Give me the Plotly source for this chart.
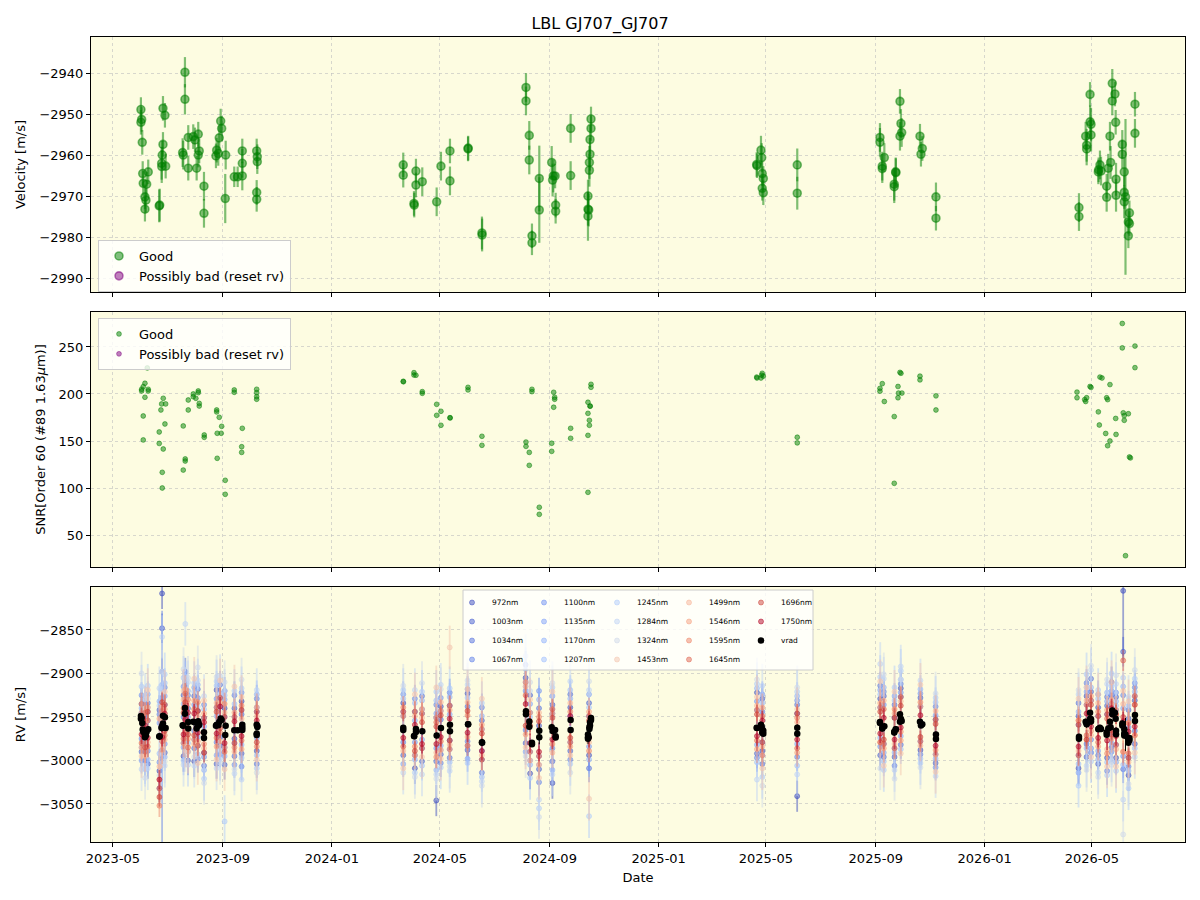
import numpy as np
import pandas as pd
import plotly.graph_objects as go

# ---------------- data ----------------
# Top panel: LBL velocities (MJD, m/s, m/s)
vel_mjd = [60096.3, 60097.1, 60096.3, 60097.8, 60098.3, 60098.9, 60104.5, 60102.7, 60100.8, 60101.9, 60100.8,
           60116.8, 60117.3, 60121.0, 60123.2, 60121.0, 60120.2, 60119.5, 60119.6, 60124.0,
           60143.0, 60143.7, 60145.6, 60145.6, 60149.3, 60149.3,
           60154.9, 60156.8, 60160.5, 60158.7, 60160.5, 60161.6, 60166.9, 60166.9,
           60180.3, 60181.1, 60182.9, 60184.0, 60185.6, 60186.7, 60190.7, 60191.2,
           60200.8, 60204.6, 60209.8, 60209.8, 60209.8,
           60225.9, 60226.6, 60226.6, 60225.9, 60225.9,
           60390.0, 60390.0, 60402.0, 60402.3, 60404.2, 60404.2, 60411.3, 60427.4, 60432.2, 60442.3, 60442.3,
           60462.5, 60462.7, 60478.1, 60478.3,
           60527.4, 60527.4, 60531.1, 60531.1, 60534.1, 60534.1, 60542.3, 60542.3,
           60556.2, 60558.0, 60560.0, 60557.2, 60560.6, 60560.6, 60577.4, 60577.4,
           60600.2, 60600.2, 60599.1, 60599.1, 60598.4, 60598.4, 60596.8, 60596.8, 60597.6, 60596.8,
           60785.7, 60786.0, 60790.5, 60791.3, 60791.9, 60793.1, 60791.9, 60793.1, 60831.1, 60831.1,
           60923.7, 60923.7, 60928.6, 60926.3, 60926.3, 60941.3, 60941.5, 60939.7, 60939.7,
           60946.1, 60947.2, 60948.0, 60946.1, 60968.5, 60971.1, 60969.6, 60986.4, 60986.4,
           61146.5, 61146.5, 61154.0, 61155.1, 61155.1, 61158.9, 61159.0, 61160.0, 61160.0,
           61168.2, 61168.5, 61170.0, 61171.2, 61177.5, 61177.5, 61179.3, 61181.9, 61181.2,
           61183.8, 61183.8, 61186.8, 61187.6, 61188.0, 61188.0,
           61195.0, 61195.0, 61197.2, 61197.2, 61197.2, 61198.6,
           61201.8, 61201.8, 61203.0, 61203.0, 61209.2, 61209.2]
vel = [-2948.9, -2951.3, -2952.0, -2956.9, -2964.5, -2966.9, -2964.1, -2967.1, -2970.2, -2971.0, -2973.2,
       -2972.4, -2972.2, -2948.6, -2950.3, -2957.4, -2960.0, -2962.0, -2962.8, -2962.7,
       -2959.4, -2960.0, -2939.8, -2946.4, -2955.7, -2963.2,
       -2955.5, -2956.3, -2954.9, -2963.2, -2960.0, -2959.0, -2967.6, -2974.2,
       -2960.2, -2958.8, -2959.6, -2955.8, -2951.7, -2953.5, -2970.6, -2960.0,
       -2965.3, -2965.3, -2959.0, -2962.0, -2965.1,
       -2959.0, -2960.4, -2961.6, -2969.1, -2970.8,
       -2962.4, -2964.9, -2971.8, -2972.2, -2963.9, -2967.3, -2966.5, -2971.4, -2962.7, -2959.0, -2966.3,
       -2958.5, -2958.3, -2979.0, -2979.5,
       -2943.5, -2946.8, -2955.2, -2961.2, -2979.7, -2981.4, -2965.7, -2973.4,
       -2961.8, -2965.1, -2965.1, -2966.1, -2972.2, -2973.7, -2953.5, -2965.0,
       -2951.2, -2953.5, -2956.2, -2959.8, -2961.8, -2963.7, -2970.0, -2973.2, -2973.4, -2974.9,
       -2962.3, -2962.6, -2958.8, -2960.6, -2964.5, -2965.7, -2968.1, -2969.2, -2962.4, -2969.3,
       -2955.7, -2956.9, -2960.6, -2962.7, -2963.3, -2964.1, -2964.3, -2967.1, -2967.7,
       -2946.9, -2952.3, -2954.5, -2955.4, -2955.4, -2958.4, -2959.8, -2970.2, -2975.4,
       -2972.8, -2975.0, -2955.4, -2957.6, -2958.5, -2945.2, -2951.9, -2952.5, -2955.1,
       -2964.1, -2963.6, -2962.4, -2963.9, -2967.6, -2970.3, -2963.2, -2961.8, -2955.4,
       -2942.5, -2946.8, -2945.1, -2952.0, -2965.9, -2969.8,
       -2957.4, -2959.8, -2964.1, -2969.1, -2971.4, -2970.2,
       -2976.3, -2979.7, -2974.1, -2976.7, -2947.6, -2954.7]
vel_err = [3, 3, 3, 3, 3, 3, 3, 3, 3, 3, 3,
           4, 4, 3, 3, 3, 3.5, 4, 4, 3,
           3.5, 3.5, 3.7, 3.7, 3, 3,
           3, 3, 3, 3, 3, 3, 3.5, 3.5,
           3, 3, 3, 3, 3, 3, 6, 3.5,
           2.5, 2.5, 3, 3.5, 3.5,
           3, 3, 3, 3, 3,
           3, 3, 3, 3, 3, 3, 3.5, 3.5, 3.5, 3, 3.5,
           3, 3, 4, 4,
           3.5, 3.5, 3.5, 3.5, 3, 3, 8, 8,
           4, 4, 3, 4, 3, 3, 3.5, 3.5,
           3, 3, 3.5, 4, 4, 4, 4, 4, 4, 6,
           3, 3, 3.5, 3.5, 3, 3, 3, 3, 4, 4,
           3.5, 3.5, 3.5, 3.5, 3.5, 3.5, 3.5, 4, 4,
           3, 3.5, 3.5, 3.5, 3, 3, 3, 3.5, 3,
           3.5, 3.5, 3.5, 4, 4, 3, 4, 4, 4,
           3, 3, 3.5, 3.5, 3, 3.5, 3.5, 4, 3.5,
           3.5, 3.5, 3, 3, 4, 4,
           3.5, 3.5, 3.5, 4, 4, 19,
           3, 3, 3, 3, 3, 3.5]

# Middle panel: SNR of order 60
snr_mjd = [60103.4, 60097.1, 60100.8, 60098.9, 60097.1, 60104.5, 60104.5, 60100.8, 60098.9, 60098.9,
           60121.3, 60119.5, 60124.0, 60118.7, 60123.2, 60116.8, 60116.8, 60121.3, 60120.2, 60120.2,
           60154.9, 60154.9, 60160.5, 60160.5, 60157.8, 60149.3, 60149.3, 60161.6, 60161.6,
           60143.7, 60145.9, 60145.9, 60143.7, 60167.2, 60167.2,
           60181.1, 60181.1, 60184.0, 60186.7, 60181.7, 60186.2, 60181.7, 60190.7, 60190.7,
           60200.8, 60200.8, 60209.8, 60209.1, 60209.1, 60225.9, 60225.9, 60225.9, 60225.9,
           60390.0, 60390.2, 60402.0, 60402.0, 60404.2, 60411.3, 60411.3, 60427.4, 60427.4, 60432.2, 60432.2,
           60442.3, 60442.5, 60462.5, 60462.5, 60478.1, 60478.1,
           60527.4, 60527.4, 60531.1, 60531.1, 60534.1, 60534.1, 60542.3, 60542.3,
           60556.2, 60556.2, 60558.4, 60558.4, 60559.5, 60559.5, 60577.4, 60577.4,
           60600.2, 60600.2, 60596.8, 60596.8, 60596.8, 60596.8, 60599.1, 60599.3, 60598.4, 60598.4,
           60785.7, 60786.0, 60790.5, 60791.3, 60791.9, 60793.1, 60831.1, 60831.1,
           60926.3, 60923.7, 60923.7, 60928.6, 60939.7, 60939.7, 60943.9, 60944.5, 60943.9,
           60946.1, 60947.2, 60948.3, 60968.5, 60968.5, 60986.4, 60986.4,
           61144.3, 61144.3, 61152.9, 61154.0, 61155.1, 61158.9, 61160.0, 61168.2, 61169.3, 61170.0, 61172.3,
           61177.5, 61178.6, 61176.4, 61181.2, 61178.6, 61181.2, 61187.6, 61188.0,
           61195.0, 61195.0, 61196.1, 61197.2, 61197.2, 61198.6, 61201.8, 61203.0, 61204.1,
           61209.2, 61209.2]
snr = [227.7, 203.2, 211.4, 207.8, 205.0, 205.0, 203.2, 196.5, 176.6, 151.1,
       195.4, 189.4, 189.4, 183.0, 168.1, 159.6, 147.4, 141.5, 116.7, 100.0,
       200.0, 197.1, 203.2, 201.4, 195.4, 193.6, 183.0, 190.0, 187.2,
       166.0, 130.9, 128.7, 119.1, 156.4, 153.9,
       183.0, 180.9, 175.2, 165.6, 158.2, 158.2, 131.6, 108.2, 93.3,
       204.3, 201.8, 163.5, 143.9, 137.9, 205.0, 201.4, 197.1, 194.4,
       213.5, 213.0, 222.7, 220.2, 219.9, 202.5, 200.7, 189.0, 177.3, 181.6, 166.7,
       174.8, 174.5, 207.1, 204.3, 155.0, 145.4,
       148.9, 144.3, 137.9, 124.1, 205.0, 202.5, 79.5, 72.0,
       147.6, 139.0, 201.8, 185.9, 196.5, 194.4, 163.5, 152.9,
       210.3, 207.1, 191.2, 179.4, 156.0, 95.4, 187.2, 187.0, 172.0, 166.7,
       218, 217, 217, 220, 222, 219, 154, 148,
       211, 206, 203, 192, 176, 105, 208, 201, 196,
       223, 222, 201, 219, 215, 198, 183,
       202, 196, 194, 192, 196, 208, 207, 181, 167, 218, 217,
       196, 194, 158, 210, 145, 150, 174, 157,
       275, 249, 180, 177, 172, 28, 179, 133, 132,
       251, 228]

# Bottom panel: per-band RVs on representative nights (MJD)
band_mjd = [60097, 60101, 60104, 60117, 60120, 60123, 60144, 60146, 60149, 60156, 60160, 60167,
            60181, 60185, 60190, 60201, 60209, 60226,
            60390, 60403, 60411, 60427, 60432, 60442, 60462, 60478, 60527, 60532, 60542, 60557, 60577, 60598,
            60786, 60792, 60831, 60924, 60928, 60940, 60947, 60969, 60986,
            61146, 61155, 61160, 61168, 61178, 61183, 61188, 61196, 61202, 61209]

rv_972 = [-2935, -3000, -2954, -3012, -2808, -2936, -2995, -2913, -2955, -3001, -2943, -2991, -2919, -2983, -2940, -2975, -2932, -2989,
          -2934, -3009, -2946, -3046, -2938, -2977, -2923, -2999, -2905, -3015, -2960, -3026, -2939, -2994,
          -2922, -2989, -3041, -2929, -2981, -2951, -2917, -2988, -2953,
          -3009, -2926, -2991, -2939, -2997, -2910, -2997, -2805, -3017, -2931]
rv_1003 = [-2990, -2950, -3004, -2942, -2848, -2991, -2925, -2963, -3000, -2926, -2983, -2951, -3004, -2928, -3005, -2940, -2992, -2944,
           -2994, -2944, -3001, -2951, -2993, -2937, -2988, -2954, -2980, -2925, -3010, -2936, -2989, -2934,
           -2992, -2929, -2946, -2994, -2926, -2996, -2927, -2928, -3003,
           -2949, -2996, -2921, -3004, -2937, -2985, -2927, -2875, -2952, -2981]
rv_1034 = [-2945, -2990, -2934, -3032, -2898, -2951, -2980, -2898, -2940, -2986, -2918, -3006, -2939, -2973, -2920, -2995, -2947, -3004,
           -2949, -2994, -2926, -3001, -2953, -2997, -2938, -3014, -2890, -2990, -2940, -3001, -2924, -3009,
           -2942, -3004, -2936, -2914, -2996, -2936, -2982, -2938, -2993,
           -2934, -2981, -2906, -2994, -2927, -2970, -2942, -3010, -2942, -2966]
rv_1067 = [-2975, -2935, -2989, -2947, -2998, -2916, -2950, -2973, -2925, -2966, -2998, -2936, -2979, -2913, -2985, -2925, -3007, -2929,
           -2979, -2929, -2986, -2936, -3003, -2922, -2978, -2939, -2965, -2945, -3025, -2946, -2999, -2949,
           -2997, -2944, -2996, -2939, -2921, -3006, -2912, -2993, -2938,
           -2994, -2911, -2976, -2924, -3012, -2925, -2982, -2925, -3007, -2916]
rv_1100 = [-2925, -2980, -2944, -3002, -2928, -2981, -2915, -2928, -2990, -2936, -2928, -2996, -2929, -2993, -2950, -3005, -2922, -2974,
           -2924, -2979, -2941, -2986, -2928, -2987, -2918, -2989, -2920, -3000, -2920, -2986, -2949, -2984,
           -2932, -2979, -2931, -2984, -2936, -2986, -2922, -2923, -3008,
           -2959, -2936, -2986, -2949, -2947, -2990, -2922, -2995, -2962, -2911]
rv_1135 = [-3000, -2955, -2924, -2957, -2988, -2926, -2985, -2908, -2950, -2916, -2973, -2961, -2994, -2938, -2930, -2980, -2942, -2939,
           -3004, -2954, -2976, -2946, -2983, -2947, -2998, -2964, -2990, -2935, -2995, -2926, -2979, -2924,
           -2982, -2924, -2981, -2919, -2991, -2926, -2972, -2978, -2948,
           -3014, -2921, -2931, -2989, -2932, -2920, -3002, -2940, -2997, -2926]
rv_1170 = [-2940, -2930, -2999, -2932, -2913, -2996, -2935, -2978, -2920, -2976, -2913, -3011, -2949, -2923, -2995, -2950, -2982, -2924,
           -2944, -2999, -2931, -3011, -2943, -2927, -2983, -2949, -2910, -3005, -2930, -3011, -2929, -2999,
           -2917, -2994, -2926, -2974, -2916, -2991, -2907, -2918, -2998,
           -2944, -2986, -2916, -2999, -2922, -2980, -2932, -2915, -3012, -2921]
rv_1207 = [-2985, -3010, -2939, -2992, -2918, -2911, -3000, -2903, -2980, -2921, -2993, -2941, -2914, -2988, -2925, -2935, -2997, -2994,
           -2929, -2934, -3006, -2931, -2988, -3002, -2928, -3019, -2915, -2950, -3005, -2941, -2919, -2939,
           -3002, -2934, -3006, -2924, -3001, -2931, -2987, -2998, -2933,
           -3004, -2916, -2991, -2929, -3002, -2915, -2937, -3005, -2937, -2986]
rv_1245 = [-2915, -3005, -2914, -2937, -3003, -2901, -2905, -2918, -3005, -2911, -2938, -3021, -2909, -2998, -3070, -2920, -2917, -3009,
           -2919, -3014, -2921, -2921, -3008, -2917, -3003, -2934, -2895, -3020, -3055, -2916, -3004, -3064,
           -2912, -3019, -2921, -2904, -3011, -2916, -2897, -3003, -2928,
           -3029, -2901, -3001, -2919, -3017, -2900, -3012, -2905, -3032, -2906]
rv_1284 = [-3010, -2925, -3009, -2917, -2858, -3006, -3005, -2843, -2910, -3006, -2908, -2926, -3009, -2903, -2920, -3015, -3022, -2919,
           -3014, -2919, -3016, -3016, -2913, -3012, -2913, -3024, -2880, -2920, -3045, -3016, -2909, -2919,
           -3022, -2914, -3016, -2889, -2906, -3011, -2892, -2908, -3018,
           -2924, -3006, -2896, -3014, -2912, -3000, -2912, -3045, -2927, -2996]
rv_1324 = [-2900, -3020, -2929, -3017, -2898, -3001, -2895, -2988, -2905, -2996, -2893, -3026, -2904, -3003, -2910, -3010, -2907, -3014,
           -2914, -3019, -2911, -3021, -2918, -3007, -2908, -3029, -2995, -2910, -3065, -2911, -3014, -2909,
           -2907, -3029, -2916, -3009, -2901, -3021, -2907, -3008, -2923,
           -2919, -3011, -2891, -3019, -2907, -3005, -2902, -3085, -3027, -2896]
rv_1453 = [-2995, -2940, -2919, -3022, -2983, -2921, -2920, -2983, -2990, -2906, -3003, -2931, -2999, -2908, -3010, -2915, -2927, -2999,
           -3009, -2924, -2996, -2916, -2998, -2870, -2918, -2929, -2985, -2930, -3020, -2921, -2994, -3044,
           -2927, -3009, -2941, -2909, -3006, -2921, -2992, -2913, -3013,
           -2929, -2916, -2996, -2924, -3007, -2910, -3007, -2920, -2932, -2991]
rv_1499 = [-2945, -2995, -2979, -3007, -2938, -2976, -2930, -2958, -2935, -2981, -2948, -2986, -2934, -2978, -2945, -2990, -2952, -2949,
           -2989, -2949, -2951, -2991, -2933, -2982, -2933, -2994, -2915, -3000, -2945, -2991, -2934, -2979,
           -2937, -2984, -2956, -2979, -2931, -2981, -2932, -2983, -2943,
           -2989, -2931, -2971, -2934, -2987, -2930, -2987, -2935, -3002, -2936]
rv_1546 = [-2985, -2955, -2939, -2952, -2988, -2941, -2980, -2918, -2975, -2931, -2978, -2946, -2984, -2933, -2985, -2945, -2987, -2939,
           -2949, -2994, -2941, -2951, -2988, -2942, -2973, -2959, -2970, -2945, -3005, -2946, -2984, -2944,
           -2987, -2939, -2991, -2934, -2986, -2946, -2977, -2938, -2993,
           -2954, -2976, -2926, -2984, -2942, -2975, -2942, -2990, -2957, -2971]
rv_1595 = [-2935, -2990, -2954, -3052, -2943, -2971, -2940, -2968, -2930, -2976, -2933, -2981, -2939, -2968, -2935, -2985, -2937, -2984,
           -2939, -2984, -2946, -2996, -2943, -2987, -2948, -2964, -2910, -2990, -2950, -2981, -2944, -2989,
           -2942, -2994, -2951, -2939, -2981, -2941, -2967, -2933, -2988,
           -2954, -2936, -2966, -2944, -2992, -2935, -2947, -2990, -2957, -2971]
rv_1645 = [-2980, -2945, -2984, -3032, -2978, -2936, -2975, -2923, -2985, -2941, -2983, -2951, -2974, -2928, -2990, -2950, -2977, -2944,
           -2984, -2944, -2986, -2956, -2978, -2937, -2983, -2999, -2925, -2955, -2995, -2941, -2979, -2949,
           -2977, -2949, -2986, -2979, -2941, -2986, -2927, -2978, -2953,
           -2994, -2971, -2931, -2979, -2952, -2970, -2982, -2885, -2992, -2926]
rv_1696 = [-2950, -2985, -2944, -3042, -2933, -2966, -2945, -2933, -2970, -2971, -2943, -2991, -2944, -2963, -2950, -2980, -2942, -2979,
           -2944, -2989, -2956, -2961, -2948, -2977, -2943, -2969, -2960, -2960, -2955, -2951, -2974, -2954,
           -2947, -2979, -2946, -2944, -2976, -2951, -2937, -2973, -2958,
           -2959, -2976, -2936, -2949, -2947, -2965, -2947, -2950, -2997, -2936]
rv_1750 = [-2970, -2960, -2974, -3022, -2973, -2946, -2970, -2953, -2945, -2946, -2968, -2956, -2969, -2938, -2980, -2955, -2972, -2954,
           -2974, -2959, -2981, -2981, -2973, -2952, -2968, -2989, -2935, -2980, -2990, -2976, -2949, -2974,
           -2972, -2954, -2976, -2969, -2951, -2976, -2962, -2948, -2983,
           -2984, -2946, -2961, -2974, -2977, -2940, -2972, -2955, -2967, -2961]

band_nm = [972, 1003, 1034, 1067, 1100, 1135, 1170, 1207, 1245, 1284, 1324, 1453, 1499, 1546, 1595, 1645, 1696, 1750]
band_rv = [rv_972, rv_1003, rv_1034, rv_1067, rv_1100, rv_1135, rv_1170, rv_1207, rv_1245, rv_1284, rv_1324,
           rv_1453, rv_1499, rv_1546, rv_1595, rv_1645, rv_1696, rv_1750]
band_err = [18, 17, 16, 16, 15, 15, 16, 17, 25, 25, 25, 25, 18, 16, 13, 12, 11, 11]
# individual large error bars (band, night index, error)
big_err = [(1067, 4, 170), (972, 48, 80), (1324, 48, 50), (1245, 14, 30)]

# ---------------- helpers ----------------
def mjd_to_dt(m):
    return pd.Timestamp("1858-11-17") + pd.to_timedelta(np.asarray(m, dtype=float), unit="D")

CW = [(0.0, 59, 76, 192), (0.03125, 68, 90, 204), (0.0625, 77, 104, 215), (0.09375, 87, 117, 225),
      (0.125, 98, 130, 234), (0.15625, 108, 142, 241), (0.1875, 119, 154, 247), (0.21875, 130, 165, 251),
      (0.25, 141, 176, 254), (0.28125, 152, 185, 255), (0.3125, 163, 194, 255), (0.34375, 174, 201, 253),
      (0.375, 184, 208, 249), (0.40625, 194, 213, 244), (0.4375, 204, 217, 238), (0.46875, 213, 219, 230),
      (0.5, 221, 221, 221), (0.53125, 229, 216, 209), (0.5625, 236, 211, 197), (0.59375, 241, 204, 185),
      (0.625, 245, 196, 173), (0.65625, 247, 187, 160), (0.6875, 247, 177, 148), (0.71875, 247, 166, 135),
      (0.75, 244, 154, 123), (0.78125, 241, 141, 111), (0.8125, 236, 127, 99), (0.84375, 229, 112, 88),
      (0.875, 222, 96, 77), (0.90625, 213, 80, 66), (0.9375, 203, 62, 56), (0.96875, 192, 40, 47),
      (1.0, 180, 4, 38)]

def coolwarm(t, a):
    ts = [c[0] for c in CW]
    r = np.interp(t, ts, [c[1] for c in CW])
    g = np.interp(t, ts, [c[2] for c in CW])
    b = np.interp(t, ts, [c[3] for c in CW])
    return f"rgba({r:.0f},{g:.0f},{b:.0f},{a})"

GREEN = "rgba(0,128,0,0.5)"
PURPLE = "rgba(128,0,128,0.5)"
FONT = "DejaVu Sans"

fig = go.Figure()

# ---- top panel ----
t_vel = mjd_to_dt(vel_mjd)
fig.add_trace(go.Scatter(x=t_vel, y=vel, mode="markers", name="Good", legend="legend",
                         marker=dict(size=8, color=GREEN, line=dict(color=GREEN, width=1.6)),
                         error_y=dict(type="data", array=vel_err, color=GREEN, thickness=2.2, width=0),
                         xaxis="x", yaxis="y"))
fig.add_trace(go.Scatter(x=[None], y=[None], mode="markers", name="Possibly bad (reset rv)", legend="legend",
                         marker=dict(size=8, color=PURPLE, line=dict(color=PURPLE, width=1.6)),
                         xaxis="x", yaxis="y"))

# ---- middle panel ----
fig.add_trace(go.Scatter(x=mjd_to_dt(snr_mjd), y=snr, mode="markers", name="Good", legend="legend2",
                         marker=dict(size=4.8, color=GREEN, line=dict(color=GREEN, width=1)),
                         xaxis="x2", yaxis="y2"))
fig.add_trace(go.Scatter(x=[None], y=[None], mode="markers", name="Possibly bad (reset rv)", legend="legend2",
                         marker=dict(size=4.8, color=PURPLE, line=dict(color=PURPLE, width=1)),
                         xaxis="x2", yaxis="y2"))

# ---- bottom panel ----
t_band = mjd_to_dt(band_mjd)
columns = [[972, 1003, 1034, 1067], [1100, 1135, 1170, 1207], [1245, 1284, 1324, 1453],
           [1499, 1546, 1595, 1645], [1696, 1750, "vrad"]]
def legend_of(key):
    for ci, col in enumerate(columns):
        if key in col:
            return "legend" + str(ci + 3), col.index(key)
    return "legend3", 0

lo, hi = band_nm[0], band_nm[-1]
for nm, rv, e in zip(band_nm, band_rv, band_err):
    errs = [e] * len(rv)
    for bnm, idx, val in big_err:
        if bnm == nm:
            errs[idx] = val
    col = coolwarm((nm - lo) / (hi - lo), 0.5)
    lg, rank = legend_of(nm)
    fig.add_trace(go.Scatter(x=t_band, y=rv, mode="markers", name=f"{nm}nm", legend=lg, legendrank=rank + 1,
                             marker=dict(size=5, color=col, line=dict(color=col, width=1)),
                             error_y=dict(type="data", array=errs, color=col, thickness=1.8, width=0),
                             xaxis="x3", yaxis="y3"))
lg, rank = legend_of("vrad")
fig.add_trace(go.Scatter(x=t_vel, y=vel, mode="markers", name="vrad", legend=lg, legendrank=rank + 1,
                         marker=dict(size=6.5, color="black"),
                         error_y=dict(type="data", array=vel_err, color="black", thickness=1, width=0),
                         xaxis="x3", yaxis="y3"))

# ---------------- layout ----------------
W, H = 1200, 900
def py(p):  # pixel row -> paper y
    return 1 - p / H
def px(p):
    return p / W

axis_common = dict(showline=True, linecolor="black", linewidth=1, mirror=True, automargin=False,
                   ticks="outside", ticklen=4, tickcolor="black", tickwidth=1,
                   showgrid=True, gridcolor="rgba(190,190,190,0.6)", griddash="3px,3px", gridwidth=1,
                   zeroline=False, tickfont=dict(size=13, color="black", family=FONT))
xr = ["2023-04-06 10:00", "2026-08-13 05:00"]
xcommon = dict(axis_common, type="date", range=xr, tick0="2023-05-01", dtick="M4", tickformat="%Y-%m",
               domain=[px(91), px(1185)])

leg_common = dict(font=dict(size=13, family=FONT, color="black"), bgcolor="rgba(255,255,255,0.8)",
                  bordercolor="#cccccc", borderwidth=1, xanchor="left", yanchor="top", itemwidth=30,
                  tracegroupgap=0)

layout = dict(
    width=W, height=H, margin=dict(l=0, r=0, t=0, b=0, autoexpand=False),
    paper_bgcolor="white", plot_bgcolor="#fdfce1",
    font=dict(family=FONT, size=13, color="black"),
    title=dict(text="LBL GJ707_GJ707", x=0.5, xanchor="center", y=py(23), yanchor="middle",
               font=dict(size=16, family=FONT, color="black")),
    xaxis=dict(xcommon, anchor="y", showticklabels=False),
    xaxis2=dict(xcommon, anchor="y2", matches="x", showticklabels=False),
    xaxis3=dict(xcommon, anchor="y3", matches="x",
                title=dict(text="Date", font=dict(size=13, family=FONT), standoff=8)),
    yaxis=dict(axis_common, anchor="x", domain=[py(292), py(37)], range=[-2993.4, -2931.2], dtick=10,
               title=dict(text="Velocity [m/s]", font=dict(size=13, family=FONT), standoff=10)),
    yaxis2=dict(axis_common, anchor="x2", domain=[py(567), py(312)], range=[16, 287.2], dtick=50,
                title=dict(text="SNR[Order 60 (#89 1.63<i>μ</i>m)]", font=dict(size=13, family=FONT), standoff=10)),
    yaxis3=dict(axis_common, anchor="x3", domain=[py(842), py(587)], range=[-3093.7, -2800.6], dtick=50,
                title=dict(text="RV [m/s]", font=dict(size=13, family=FONT), standoff=10)),
    legend=dict(leg_common, x=px(98), y=py(240)),
    legend2=dict(leg_common, x=px(98), y=py(318)),
    showlegend=True,
)
col_left = [452, 524, 597, 669, 741]
for ci, xl in enumerate(col_left):
    layout["legend" + str(ci + 3)] = dict(font=dict(size=7.5, family=FONT, color="black"),
                                          bgcolor="rgba(0,0,0,0)", borderwidth=0,
                                          xanchor="left", yanchor="top", x=px(xl), y=py(588),
                                          itemwidth=30, tracegroupgap=0, traceorder="normal")
layout["shapes"] = [dict(type="rect", xref="paper", yref="paper", layer="above",
                         x0=px(463), x1=px(813), y0=py(670), y1=py(590),
                         fillcolor="rgba(255,255,255,0.8)", line=dict(color="#cccccc", width=1))]
fig.update_layout(**layout)

fig.write_html("out.html")
